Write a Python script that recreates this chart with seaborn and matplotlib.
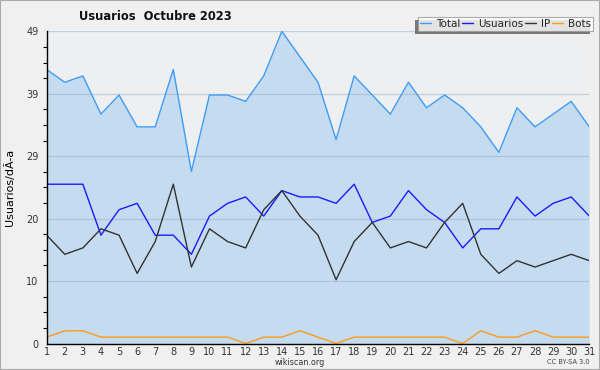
import numpy as np
import pandas as pd
import matplotlib
matplotlib.use("Agg")
import matplotlib.pyplot as plt
from matplotlib.patches import Rectangle
from matplotlib.ticker import MultipleLocator, FixedLocator
import seaborn as sns

title = "Usuarios  Octubre 2023"
ylabel = "Usuarios/dÃ-a"
days = list(range(1, 32))
total = [43, 41, 42, 36, 39, 34, 34, 43, 27, 39, 39, 38, 42, 49, 45, 41,
         32, 42, 39, 36, 41, 37, 39, 37, 34, 30, 37, 34, 36, 38, 34]
usuarios = [25, 25, 25, 17, 21, 22, 17, 17, 14, 20, 22, 23, 20, 24, 23, 23,
            22, 25, 19, 20, 24, 21, 19, 15, 18, 18, 23, 20, 22, 23, 20]
ip = [17, 14, 15, 18, 17, 11, 16, 25, 12, 18, 16, 15, 21, 24, 20, 17,
      10, 16, 19, 15, 16, 15, 19, 22, 14, 11, 13, 12, 13, 14, 13]
bots = [1, 2, 2, 1, 1, 1, 1, 1, 1, 1, 1, 0, 1, 1, 2, 1,
        0, 1, 1, 1, 1, 1, 1, 0, 2, 1, 1, 2, 1, 1, 1]
ytick_labels = ["0", "10", "20", "29", "39", "49"]
series_names = ["Total", "Usuarios", "IP", "Bots"]
colors = {"Total": "#3d9cf5", "Usuarios": "#1a1aff", "IP": "#333333", "Bots": "#ff9a1a"}

df = pd.DataFrame({"day": days, "Total": total, "Usuarios": usuarios, "IP": ip, "Bots": bots})
long = df.melt(id_vars="day", var_name="serie", value_name="valor")

sns.set_style("white")
plt.rcParams["font.family"] = ["DejaVu Sans"]

fig = plt.figure(figsize=(6, 3.7), dpi=100, facecolor="#f0f0f0")
ax = fig.add_axes([46.7 / 600, 1 - 343.5 / 370, (589.3 - 46.7) / 600, (343.5 - 31.3) / 370])
ax.set_facecolor("#eeeff1")

ax.fill_between(df["day"], 0, df["Total"], color="#c5dcf0", zorder=1, linewidth=0)

sns.lineplot(data=long, x="day", y="valor", hue="serie", hue_order=series_names,
             palette=colors, ax=ax, linewidth=1.0, legend=False, zorder=3)

ymax = max(total)
ax.set_xlim(1, 31)
ax.set_ylim(0, ymax)
yt = np.linspace(0, ymax, 6)
ax.yaxis.set_major_locator(FixedLocator(yt))
ax.set_yticklabels(ytick_labels)
ax.yaxis.set_minor_locator(MultipleLocator(ymax / 20))
ax.set_xticks(days)
ax.set_xticklabels([str(d) for d in days])
ax.grid(axis="y", which="major", color="#8fa8c0", alpha=0.45, linewidth=0.9, zorder=2)
ax.set_axisbelow(False)
for l in ax.get_ygridlines():
    l.set_zorder(2)

for s in ["top", "right"]:
    ax.spines[s].set_visible(False)
for s in ["left", "bottom"]:
    ax.spines[s].set_color("black")
    ax.spines[s].set_linewidth(1.0)
    ax.spines[s].set_zorder(5)

ax.tick_params(axis="y", which="major", direction="out", length=5, width=0.8,
               color="black", labelsize=7, labelcolor="#333333", pad=1)
ax.tick_params(axis="y", which="minor", direction="out", length=3, width=0.8, color="black", left=True)
ax.tick_params(axis="x", which="major", direction="out", length=2, width=0.8,
               color="black", labelsize=7, labelcolor="#333333", pad=0.5)
ax.set_xlabel("")
ax.set_ylabel(ylabel, fontsize=8, color="black", labelpad=8)

fig.text(155 / 600, 1 - 16 / 370, title, ha="center", va="center",
         fontsize=8.3, fontweight="bold", color="#111111")
fig.text(300 / 600, 1 - 362.5 / 370, "wikiscan.org", ha="center", va="center",
         fontsize=5.8, color="#333333")
fig.text(590 / 600, 1 - 362.5 / 370, "CC BY-SA 3.0", ha="right", va="center",
         fontsize=4.8, color="#444444")

# legend with shadow
handles = [plt.Line2D([], [], color=colors[n], linewidth=1.0) for n in series_names]
leg = fig.legend(handles, series_names, loc="upper right", bbox_to_anchor=(593 / 600, 1 - 17 / 370),
                 ncol=4, fontsize=7.5, frameon=True, fancybox=False, shadow=False,
                 handlelength=1.0, handletextpad=0.5, columnspacing=0.2,
                 borderpad=0.2, borderaxespad=0)
leg.get_frame().set_edgecolor("#999999")
leg.get_frame().set_linewidth(0.8)
leg.get_frame().set_facecolor("white")
fig.canvas.draw()
bb = leg.get_window_extent()
fig.patches.append(Rectangle((bb.x0 - 3, bb.y0 - 3), bb.width, bb.height, transform=None,
                             facecolor="#777777", edgecolor="none", zorder=leg.get_zorder() - 0.5))

fig.patches.append(Rectangle((0, 0), 1, 1, transform=fig.transFigure, fill=False,
                             edgecolor="#aaaaaa", linewidth=1.5, zorder=10))

fig.savefig("out.png", dpi=100, facecolor=fig.get_facecolor())
